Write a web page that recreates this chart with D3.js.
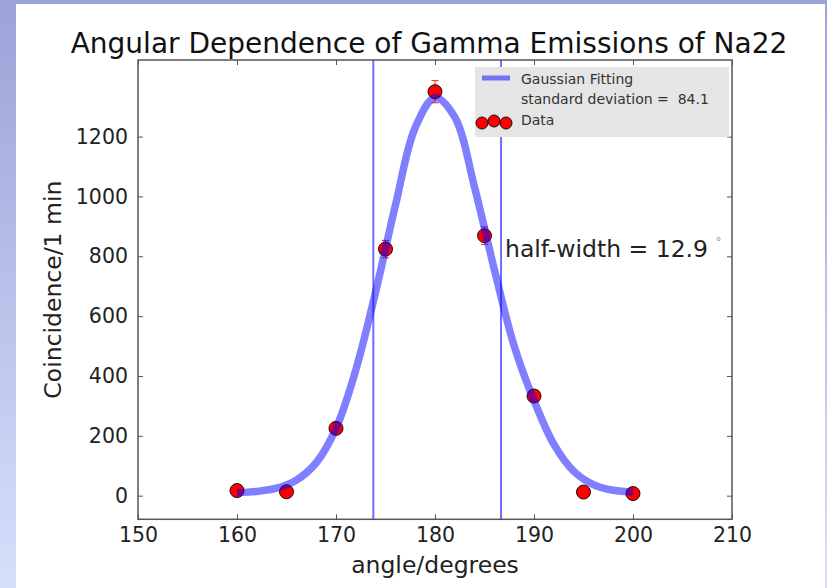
<!DOCTYPE html>
<html><head><meta charset="utf-8">
<script src="https://cdn.jsdelivr.net/npm/d3@7"></script>
<style>body{margin:0;background:#fff;} svg{display:block;} text{font-family:"DejaVu Sans",sans-serif;}</style>
</head><body><svg id="c" width="827" height="588"></svg>
<script>
// ---- data ----
const angles = [160, 165, 170, 175, 180, 185, 190, 195, 200];
const counts = [17, 13, 225, 824, 1350, 869, 333, 12, 7];
const errors = [4, 4, 15, 29, 37, 29, 18, 3, 3];
const fitAngles = [160,162,164,166,168,170,172,174,176,178,180,182,184,186,188,190,192,194,196,198,200];
const fitValues = [10,14,25,52,110,225,420,680,970,1230,1330,1265,1030,755,500,318,172,82,37,18,12];
const halfWidthLines = [173.77, 186.67];
const xTicks = [150, 160, 170, 180, 190, 200, 210];
const yTicks = [0, 200, 400, 600, 800, 1000, 1200];
const titleText = "Angular Dependence of Gamma Emissions of Na22";
const xLabel = "angle/degrees";
const yLabel = "Coincidence/1 min";
const legendLabels = ["Gaussian Fitting", "standard deviation =  84.1", "Data"];
const annotation = "half-width = 12.9 ";

const svg = d3.select("#c");
const W = 827, H = 588;

// background (slide gradient + white picture)
const defs = svg.append("defs");
const g = defs.append("linearGradient").attr("id","bg").attr("x1",0).attr("y1",0).attr("x2",0).attr("y2",1);
g.append("stop").attr("offset","0%").attr("stop-color","#9ba3d8");
g.append("stop").attr("offset","100%").attr("stop-color","#d6e0fb");
svg.append("rect").attr("width",W).attr("height",H).attr("fill","url(#bg)");
svg.append("rect").attr("x",16).attr("y",4).attr("width",809).attr("height",H-4).attr("fill","#fff");

const L = 138, R = 732, T = 60, B = 519.3;
const x = d3.scaleLinear().domain([150, 210]).range([L, R]);
const y = d3.scaleLinear().domain([-79, 1456]).range([B, T]);

defs.append("clipPath").attr("id","clip").append("rect").attr("x",L).attr("y",T).attr("width",R-L).attr("height",B-T);

const plot = svg.append("g").attr("clip-path","url(#clip)");

// vertical half-width lines
plot.selectAll("line.hw").data(halfWidthLines).enter().append("line")
  .attr("x1", d=>x(d)).attr("x2", d=>x(d)).attr("y1", T).attr("y2", B)
  .attr("stroke","#6f6fff").attr("stroke-width",2);

// error bars
const eb = plot.selectAll("g.eb").data(angles).enter().append("g");
eb.append("line").attr("x1",(d)=>x(d)).attr("x2",(d)=>x(d))
  .attr("y1",(d,i)=>y(counts[i]-errors[i])).attr("y2",(d,i)=>y(counts[i]+errors[i]))
  .attr("stroke","#ff2020").attr("stroke-width",1);
[1,-1].forEach(s=>{
  eb.append("line").attr("x1",d=>x(d)-3.5).attr("x2",d=>x(d)+3.5)
    .attr("y1",(d,i)=>y(counts[i]+s*errors[i])).attr("y2",(d,i)=>y(counts[i]+s*errors[i]))
    .attr("stroke","#ff2020").attr("stroke-width",1);
});

// data points
plot.selectAll("circle.pt").data(angles).enter().append("circle")
  .attr("cx", d=>x(d)).attr("cy",(d,i)=>y(counts[i])).attr("r",7)
  .attr("fill","#ff0000").attr("stroke","#111").attr("stroke-width",1);

// fit curve (semi-transparent, drawn over points)
const line = d3.line().x(d=>x(d[0])).y(d=>y(d[1])).curve(d3.curveCatmullRom);
plot.append("path").datum(fitAngles.map((a,i)=>[a,fitValues[i]]))
  .attr("d", line).attr("fill","none").attr("stroke","#0000ff").attr("stroke-opacity",0.5)
  .attr("stroke-width",7.5).attr("stroke-linejoin","round");

// axes
const axStroke = "#555";
function styleAxis(sel){
  sel.select(".domain").remove();
  sel.selectAll(".tick line").attr("stroke",axStroke).attr("stroke-width",1);
  sel.selectAll(".tick text").attr("fill","#222").style("font-size","20.5px").style("font-family","DejaVu Sans");
}
svg.append("g").attr("transform",`translate(0,${B})`)
  .call(d3.axisBottom(x).tickValues(xTicks).tickSizeInner(-5).tickSizeOuter(0).tickPadding(8).tickFormat(d3.format("d")))
  .call(styleAxis);
svg.append("g").attr("transform",`translate(0,${T})`)
  .call(d3.axisTop(x).tickValues(xTicks).tickSizeInner(-5).tickSizeOuter(0).tickFormat(""))
  .call(styleAxis);
svg.append("g").attr("transform",`translate(${L},0)`)
  .call(d3.axisLeft(y).tickValues(yTicks).tickSizeInner(-5).tickSizeOuter(0).tickPadding(10).tickFormat(d3.format("d")))
  .call(styleAxis);
svg.append("g").attr("transform",`translate(${R},0)`)
  .call(d3.axisRight(y).tickValues(yTicks).tickSizeInner(-5).tickSizeOuter(0).tickFormat(""))
  .call(styleAxis);
svg.append("rect").attr("x",L).attr("y",T).attr("width",R-L).attr("height",B-T)
  .attr("fill","none").attr("stroke",axStroke).attr("stroke-width",1.5);

// legend
const lg = svg.append("g");
lg.append("rect").attr("x",475).attr("y",67).attr("width",254).attr("height",70).attr("fill","#e5e5e5");
lg.append("line").attr("x1",482).attr("x2",510).attr("y1",78).attr("y2",78)
  .attr("stroke","#0000ff").attr("stroke-opacity",0.5).attr("stroke-width",5);
lg.selectAll("text").data(legendLabels).enter().append("text")
  .attr("x",521).attr("y",(d,i)=>[84,104,125][i]).text(d=>d)
  .attr("fill","#333").style("font-size","14px").style("white-space","pre");
const legendMarkers = [[482,123],[494,121],[506,123]];
lg.selectAll("circle").data(legendMarkers).enter().append("circle")
  .attr("cx",d=>d[0]).attr("cy",d=>d[1]).attr("r",6).attr("fill","#ff0000").attr("stroke","#111").attr("stroke-width",1);

// annotation
const an = svg.append("text").attr("x",505).attr("y",257).attr("fill","#222").style("font-size","23.5px").style("white-space","pre").text(annotation);
an.append("tspan").attr("dy",-11).style("font-size","12px").attr("fill","#999").text("°");

// title & labels
svg.append("text").attr("x",(L+R)/2 - 6).attr("y",53).attr("text-anchor","middle")
  .attr("fill","#111").style("font-size","28px").text(titleText);
svg.append("text").attr("x",(L+R)/2).attr("y",573).attr("text-anchor","middle")
  .attr("fill","#222").style("font-size","23.5px").text(xLabel);
svg.append("text").attr("transform",`translate(61,${(T+B)/2}) rotate(-90)`).attr("text-anchor","middle")
  .attr("fill","#222").style("font-size","23.5px").text(yLabel);
</script></body></html>
